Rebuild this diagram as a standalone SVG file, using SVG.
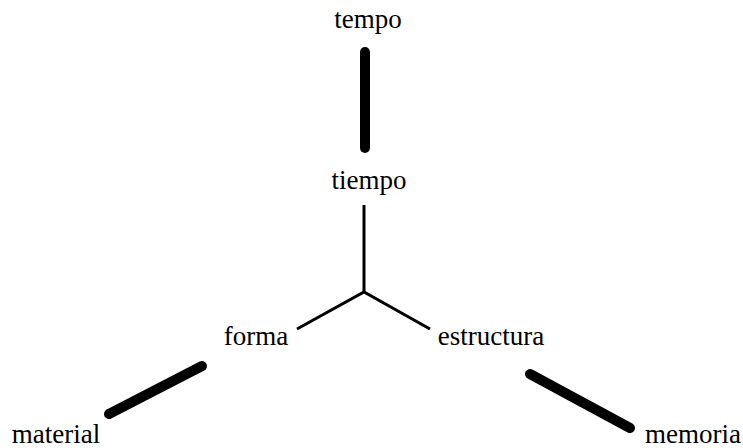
<svg xmlns="http://www.w3.org/2000/svg" width="743" height="448" viewBox="0 0 743 448">
<style>
text{font-family:"Liberation Serif","Times New Roman",serif;font-size:27px;fill:#000}
.thick{stroke:#000;stroke-width:10;stroke-linecap:round;fill:none}
.thin{stroke:#000;stroke-width:3;fill:none;stroke-linejoin:miter}
</style>
<rect width="743" height="448" fill="#fff"/>
<g id="connectors">
<line class="thick" x1="365" y1="52" x2="365" y2="148"/>
<line class="thick" x1="109" y1="414" x2="202" y2="366"/>
<line class="thick" x1="530" y1="374" x2="630" y2="428"/>
<polyline class="thin" points="364,205 364,292"/>
<polyline class="thin" points="297,329 364,292 430,329"/>
</g>
<g id="tempo"><text x="368" y="28" text-anchor="middle">tempo</text></g>
<g id="tiempo"><text x="369" y="189" text-anchor="middle">tiempo</text></g>
<g id="forma"><text x="256" y="345" text-anchor="middle">forma</text></g>
<g id="estructura"><text x="491" y="345" text-anchor="middle">estructura</text></g>
<g id="material"><text x="56" y="443" text-anchor="middle">material</text></g>
<g id="memoria"><text x="693" y="443" text-anchor="middle">memoria</text></g>
</svg>
